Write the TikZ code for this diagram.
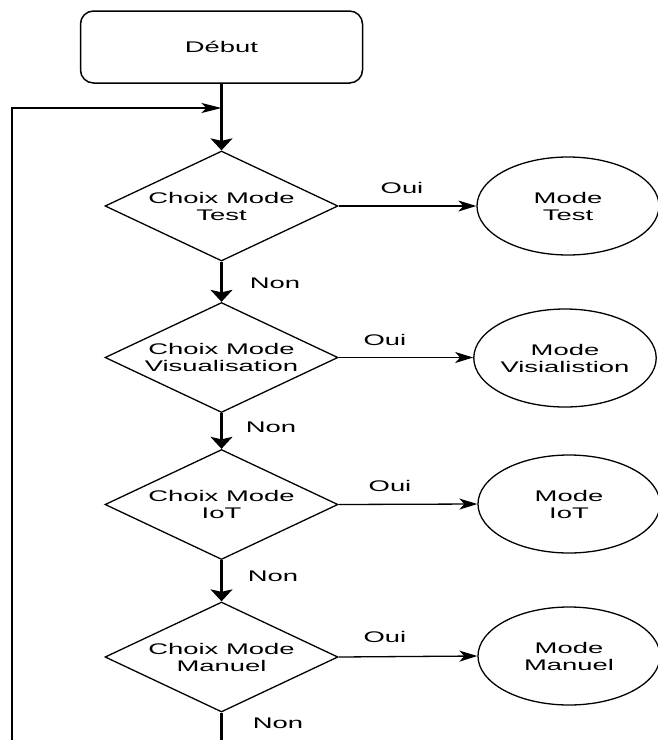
\documentclass[tikz,border=0pt]{standalone}
\usepackage{fontspec}
\setmainfont[FakeStretch=1.78]{Liberation Sans}
\usetikzlibrary{shapes.geometric,arrows.meta}
\begin{document}
\begin{tikzpicture}[x=1pt,y=-1pt,
  every node/.style={font=\fontsize{15.4}{17}\selectfont, align=center},
  startbox/.style={draw, rounded corners=13pt, minimum width=282pt, minimum height=72pt, inner sep=0pt, line width=1.5pt},
  decision/.style={draw, diamond, aspect=2.12, minimum width=233pt, minimum height=110pt, inner sep=0pt, line width=1.3pt},
  modebox/.style={draw, ellipse, minimum width=182pt, minimum height=98pt, inner sep=0pt, line width=1.3pt},
  vline/.style={line width=2.2pt},
  hline/.style={line width=1.3pt},
  down/.style={vline, -{Stealth[length=12pt,width=22pt,inset=2.5pt]}},
  yes/.style={hline, -{Stealth[length=18pt,width=11pt,inset=5pt]}},
  lbl/.style={inner sep=0pt}
]
\useasboundingbox (0,0) rectangle (657,740);

% start block
\node[startbox] (start) at (221.5,47) {Début};

% decisions
\node[decision] (d1) at (221.5,206)   {Choix Mode\\Test};
\node[decision] (d2) at (221.5,357.5) {Choix Mode\\Visualisation};
\node[decision] (d3) at (221.5,504.5) {Choix Mode\\IoT};
\node[decision] (d4) at (221.5,657)   {Choix Mode\\Manuel};

% modes
\node[modebox] (m1) at (568,206) {Mode\\Test};
\node[modebox] (m2) at (565,358) {Mode\\Visialistion};
\node[modebox] (m3) at (569,504) {Mode\\IoT};
\node[modebox] (m4) at (569,656) {Mode\\Manuel};

% main vertical flow
\coordinate (merge) at (221.5,108);
\draw[vline] (start.south) -- (merge);
\draw[down] (merge) -- (d1.north);
\draw[down] (d1.south) -- (d2.north);
\draw[down] (d2.south) -- (d3.north);
\draw[down] (d3.south) -- (d4.north);
\coordinate (exitd) at (221.5,742);
\draw[vline] (d4.south) -- (exitd);

% loop back to the top
\coordinate (exitl) at (12,742);
\coordinate (corner) at (12,108);
\draw[vline] (exitl) -- ([yshift=1.1pt]corner);
\draw[hline, -{Stealth[length=20pt,width=10pt,inset=5pt]}] ([xshift=-1.1pt]corner) -- (merge);

% "yes" branches
\draw[yes] (d1.east) -- (m1.west);
\draw[yes] (d2.east) -- (d2.east -| m2.west);
\draw[yes] (d3.east) -- (m3.west);
\draw[yes] (d4.east) -- (m4.west);

% branch labels
\node[lbl] (o1) at (402,188) {Oui};
\node[lbl] (o2) at (385,340) {Oui};
\node[lbl] (o3) at (390,486) {Oui};
\node[lbl] (o4) at (385,637) {Oui};
\node[lbl] (n1) at (275,283) {Non};
\node[lbl] (n2) at (271,427) {Non};
\node[lbl] (n3) at (273,576) {Non};
\node[lbl] (n4) at (278,723) {Non};
\end{tikzpicture}
\end{document}
